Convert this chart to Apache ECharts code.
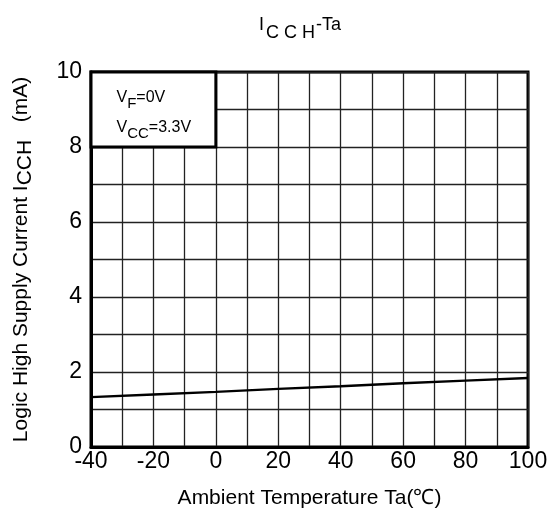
<!DOCTYPE html>
<html><head><meta charset="utf-8">
<script src="https://cdn.jsdelivr.net/npm/echarts@6/dist/echarts.min.js"></script>
<style>html,body{margin:0;padding:0;background:#fff}#c{width:559px;height:514px}</style>
</head><body><div id="c"></div>
<script>
const temps = [-40, -20, 0, 20, 40, 60, 80, 100];
const icch = [1.33, 1.40, 1.47, 1.55, 1.62, 1.70, 1.77, 1.84];
const xTicks = [-40, -20, 0, 20, 40, 60, 80, 100];
const yTicks = [0, 2, 4, 6, 8, 10];
const legendBox = [[-40, 10], [0, 8]];
const FONT = '"Liberation Sans", Arial, sans-serif';

const chart = echarts.init(document.getElementById('c'));
chart.setOption({
  animation: false,
  backgroundColor: '#fff',
  title: {
    text: '{n|I}{s|C C H}{n|-Ta}',
    left: 254,
    top: 3,
    textStyle: {
      fontWeight: 'normal',
      rich: {
        n: {fontFamily: FONT, fontSize: 18, color: '#000', fontWeight: 'normal'},
        s: {fontFamily: FONT, fontSize: 18, color: '#000', fontWeight: 'normal', padding: [16, 1, 0, 2]}
      }
    }
  },
  grid: {left: 91, right: 31, top: 72, bottom: 67, show: true, borderColor: '#000', borderWidth: 3, backgroundColor: 'transparent'},
  xAxis: {
    type: 'value', min: -40, max: 100, interval: 10,
    name: 'Ambient Temperature Ta(\u2103)', nameLocation: 'middle', nameGap: 41,
    nameTextStyle: {fontFamily: FONT, fontSize: 21, color: '#000'},
    axisLine: {show: true, onZero: false, lineStyle: {color: '#000', width: 3}},
    axisTick: {show: false},
    axisLabel: {color: '#000', fontFamily: FONT, fontSize: 23, margin: 3,
      formatter: v => xTicks.includes(v) ? String(v) : ''},
    splitLine: {show: true, lineStyle: {color: '#222', width: 1.3}}
  },
  yAxis: {
    type: 'value', min: 0, max: 10, interval: 1,
    name: 'Logic High Supply Current I{s|CCH}   (mA)', nameLocation: 'middle', nameGap: 55,
    nameTextStyle: {fontFamily: FONT, fontSize: 21, color: '#000',
      rich: {s: {fontFamily: FONT, fontSize: 21, color: '#000', padding: [8, 0, 0, 0]}}},
    axisLine: {show: true, onZero: false, lineStyle: {color: '#000', width: 3}},
    axisTick: {show: false},
    axisLabel: {color: '#000', fontFamily: FONT, fontSize: 23, margin: 9,
      formatter: v => yTicks.includes(v) ? String(v) : ''},
    splitLine: {show: true, lineStyle: {color: '#222', width: 1.3}}
  },
  series: [{
    type: 'line',
    data: temps.map((t, i) => [t, icch[i]]),
    showSymbol: false,
    lineStyle: {color: '#000', width: 2.5},
    markArea: {
      silent: true,
      itemStyle: {color: '#fff', borderColor: '#000', borderWidth: 3},
      label: {
        show: true, position: 'insideTopLeft', distance: 0, offset: [27, 12],
        formatter: '{n|V}{s|F}{n|=0V}\n{n|V}{s|CC}{n|=3.3V}',
        rich: {
          n: {fontFamily: FONT, fontSize: 16, color: '#000', lineHeight: 30},
          s: {fontFamily: FONT, fontSize: 15, color: '#000', lineHeight: 17, padding: [13, 0, 0, 0]}
        }
      },
      data: [[{coord: legendBox[0]}, {coord: legendBox[1]}]]
    }
  }]
});
</script></body></html>
